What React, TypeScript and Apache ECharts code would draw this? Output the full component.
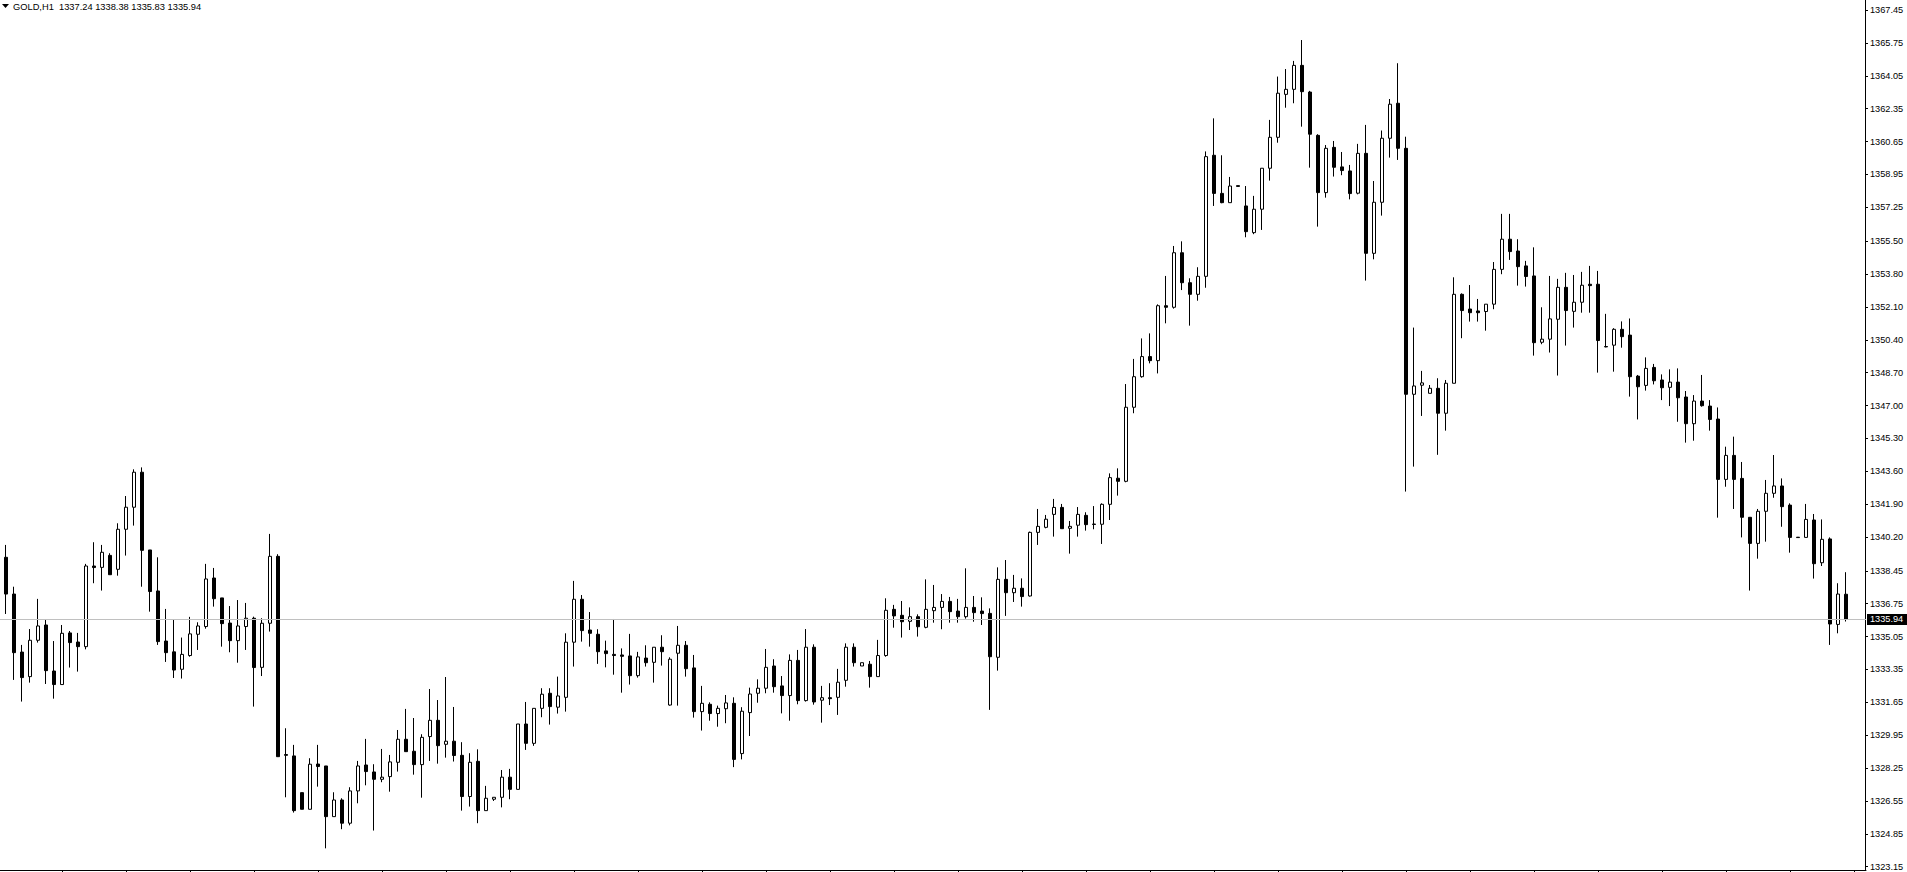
import React, { useEffect, useRef } from "react";
import * as echarts from "echarts";

const symbolName = "GOLD,H1";

const opens = [
  1338.00, 1339.15, 1337.25, 1334.25, 1332.98, 1334.86, 1335.65, 1333.27, 1332.57, 1335.24,
  1334.77, 1334.53, 1338.70, 1338.63, 1339.25, 1338.53, 1340.60, 1341.74, 1343.55, 1339.53,
  1337.41, 1334.82, 1334.26, 1333.36, 1334.07, 1335.17, 1335.57, 1338.08, 1337.05, 1335.75,
  1334.84, 1335.57, 1336.00, 1333.46, 1335.74, 1339.20, 1328.95, 1328.88, 1326.98, 1326.12,
  1328.46, 1328.36, 1325.74, 1326.60, 1325.40, 1327.07, 1328.41, 1328.05, 1327.67, 1327.81,
  1328.55, 1329.74, 1329.12, 1328.43, 1329.88, 1330.72, 1329.48, 1329.64, 1328.91, 1326.78,
  1328.60, 1326.05, 1326.64, 1326.74, 1327.78, 1327.15, 1330.53, 1329.53, 1331.34, 1332.12,
  1331.40, 1331.91, 1334.76, 1336.98, 1335.39, 1335.17, 1334.31, 1334.13, 1334.10, 1334.05,
  1333.03, 1333.94, 1333.72, 1334.50, 1331.51, 1334.19, 1334.60, 1333.43, 1331.17, 1331.55,
  1331.07, 1331.32, 1331.60, 1329.00, 1331.12, 1332.12, 1332.38, 1333.53, 1332.50, 1332.00,
  1333.82, 1331.74, 1334.50, 1331.76, 1331.89, 1331.91, 1332.79, 1334.50, 1333.53, 1333.62,
  1332.98, 1334.07, 1336.46, 1336.15, 1335.84, 1336.08, 1335.53, 1336.39, 1336.56, 1336.87,
  1336.37, 1336.08, 1336.56, 1336.37, 1336.25, 1333.98, 1338.01, 1337.32, 1337.55, 1337.15,
  1340.44, 1340.70, 1341.37, 1341.73, 1340.65, 1340.81, 1341.32, 1340.87, 1340.86, 1341.89,
  1343.24, 1343.08, 1346.91, 1348.49, 1349.53, 1349.32, 1352.16, 1352.08, 1354.90, 1353.35,
  1352.75, 1353.68, 1359.94, 1357.97, 1357.49, 1358.37, 1357.32, 1355.94, 1357.15, 1359.27,
  1360.87, 1363.09, 1363.35, 1364.59, 1363.21, 1360.97, 1358.01, 1360.35, 1359.34, 1359.13,
  1357.98, 1360.04, 1354.87, 1357.51, 1360.82, 1362.63, 1360.30, 1347.58, 1348.05, 1347.63,
  1347.89, 1346.60, 1348.15, 1352.75, 1351.99, 1351.89, 1351.86, 1352.24, 1354.04, 1355.60,
  1354.99, 1354.22, 1353.70, 1350.27, 1350.43, 1351.46, 1353.11, 1351.87, 1352.34, 1353.27,
  1353.27, 1350.05, 1350.12, 1350.94, 1350.64, 1348.52, 1348.04, 1348.97, 1348.32, 1347.94,
  1348.21, 1347.44, 1346.06, 1347.23, 1346.97, 1346.30, 1343.18, 1344.42, 1343.23, 1341.22,
  1339.87, 1341.53, 1342.46, 1342.84, 1341.85, 1340.19, 1340.18, 1341.08, 1338.87, 1340.10,
  1335.68, 1337.24,
];

const highs = [
  1340.05, 1339.79, 1337.63, 1334.62, 1335.44, 1337.00, 1335.91, 1334.82, 1335.65, 1335.34,
  1335.24, 1338.81, 1339.93, 1339.79, 1339.36, 1340.91, 1342.32, 1343.70, 1343.80, 1339.53,
  1339.15, 1336.48, 1335.91, 1335.00, 1336.07, 1335.79, 1338.81, 1338.60, 1337.05, 1336.63,
  1336.94, 1336.79, 1336.08, 1336.00, 1340.36, 1339.31, 1330.31, 1329.45, 1326.98, 1328.76,
  1329.45, 1328.36, 1327.00, 1326.69, 1327.26, 1328.62, 1329.76, 1328.45, 1329.24, 1328.93,
  1330.22, 1331.31, 1330.84, 1330.00, 1332.34, 1331.77, 1332.96, 1331.41, 1329.59, 1329.02,
  1329.22, 1327.33, 1326.74, 1328.15, 1328.21, 1330.53, 1331.67, 1331.34, 1332.38, 1332.38,
  1332.98, 1335.22, 1337.93, 1337.20, 1336.32, 1335.43, 1334.84, 1335.96, 1334.44, 1335.19,
  1334.26, 1334.60, 1334.50, 1335.12, 1333.98, 1335.60, 1334.82, 1334.10, 1332.50, 1331.65,
  1331.48, 1332.03, 1331.91, 1331.40, 1332.41, 1332.84, 1334.41, 1333.88, 1333.01, 1334.13,
  1334.36, 1335.44, 1334.65, 1332.50, 1332.64, 1333.38, 1334.70, 1334.70, 1333.70, 1333.79,
  1334.88, 1337.03, 1336.69, 1336.89, 1336.56, 1336.20, 1338.01, 1337.72, 1337.25, 1337.10,
  1337.00, 1338.58, 1337.15, 1337.08, 1336.51, 1338.63, 1339.01, 1338.24, 1338.06, 1340.48,
  1341.65, 1341.34, 1342.17, 1341.91, 1341.03, 1341.75, 1341.48, 1341.80, 1341.94, 1343.49,
  1343.75, 1348.11, 1349.41, 1350.47, 1350.73, 1352.23, 1353.70, 1355.25, 1355.49, 1353.58,
  1354.15, 1360.14, 1361.85, 1359.94, 1358.82, 1358.37, 1358.35, 1357.84, 1359.27, 1361.77,
  1364.01, 1364.40, 1364.82, 1365.90, 1363.27, 1361.03, 1360.47, 1360.68, 1360.11, 1359.44,
  1360.53, 1361.51, 1358.61, 1361.22, 1362.85, 1364.70, 1360.90, 1351.03, 1348.79, 1348.06,
  1348.41, 1348.32, 1353.63, 1352.80, 1353.23, 1352.51, 1352.24, 1354.42, 1356.91, 1356.91,
  1355.60, 1354.48, 1355.18, 1352.08, 1353.70, 1353.55, 1353.86, 1353.75, 1353.91, 1354.22,
  1353.96, 1351.74, 1351.00, 1351.35, 1351.50, 1348.58, 1349.49, 1349.15, 1348.61, 1348.87,
  1348.92, 1347.75, 1347.54, 1348.58, 1347.28, 1346.90, 1344.87, 1345.39, 1344.08, 1341.22,
  1341.65, 1343.15, 1344.44, 1343.23, 1341.94, 1340.19, 1341.91, 1341.39, 1341.11, 1340.18,
  1337.81, 1338.38,
];

const lows = [
  1337.90, 1336.22, 1332.81, 1331.69, 1332.67, 1334.74, 1332.60, 1331.84, 1332.57, 1333.45,
  1333.24, 1334.39, 1337.81, 1337.43, 1338.25, 1338.20, 1339.24, 1340.79, 1337.63, 1336.34,
  1334.62, 1333.74, 1332.91, 1332.88, 1334.01, 1334.36, 1335.46, 1336.60, 1334.53, 1334.24,
  1333.70, 1334.36, 1331.43, 1333.01, 1335.31, 1328.84, 1326.74, 1325.95, 1326.12, 1326.12,
  1327.29, 1324.10, 1325.74, 1325.09, 1325.29, 1326.43, 1327.36, 1325.02, 1327.52, 1327.03,
  1328.07, 1329.10, 1327.91, 1326.72, 1328.62, 1328.48, 1328.79, 1328.59, 1326.05, 1326.26,
  1325.40, 1326.05, 1326.55, 1326.22, 1326.64, 1327.15, 1329.19, 1329.40, 1330.88, 1330.50,
  1331.07, 1331.17, 1333.50, 1334.79, 1334.53, 1333.64, 1333.46, 1333.08, 1332.15, 1332.57,
  1332.93, 1333.50, 1332.67, 1333.55, 1331.48, 1331.48, 1332.98, 1330.86, 1330.19, 1330.70,
  1330.39, 1330.57, 1328.30, 1328.70, 1329.91, 1331.63, 1332.12, 1332.15, 1331.08, 1330.70,
  1331.55, 1331.69, 1331.53, 1330.60, 1331.51, 1331.00, 1332.46, 1333.50, 1333.53, 1332.41,
  1332.98, 1334.01, 1335.51, 1335.00, 1335.39, 1335.05, 1335.48, 1335.77, 1335.43, 1335.77,
  1335.77, 1335.98, 1335.82, 1335.65, 1331.26, 1333.29, 1336.12, 1336.84, 1336.60, 1337.12,
  1339.79, 1340.65, 1340.22, 1340.63, 1339.34, 1340.22, 1340.53, 1340.60, 1339.84, 1341.08,
  1342.34, 1343.03, 1346.60, 1348.44, 1349.18, 1348.66, 1351.25, 1352.01, 1352.97, 1351.13,
  1352.42, 1353.09, 1357.32, 1357.46, 1357.49, 1358.33, 1355.70, 1355.86, 1356.08, 1358.63,
  1360.59, 1362.40, 1362.63, 1361.42, 1359.30, 1356.25, 1357.75, 1358.84, 1358.91, 1357.66,
  1357.92, 1353.46, 1354.56, 1356.82, 1359.82, 1359.70, 1342.55, 1343.84, 1346.46, 1347.63,
  1344.45, 1345.70, 1348.15, 1350.48, 1351.34, 1351.34, 1350.87, 1351.98, 1353.79, 1354.53,
  1353.20, 1353.15, 1349.58, 1350.17, 1349.74, 1348.55, 1350.10, 1351.03, 1351.80, 1351.80,
  1348.70, 1350.01, 1348.75, 1349.99, 1347.46, 1346.28, 1347.77, 1348.09, 1347.28, 1346.97,
  1346.16, 1345.08, 1345.18, 1346.94, 1345.70, 1341.20, 1342.80, 1341.65, 1340.18, 1337.43,
  1339.08, 1339.96, 1342.23, 1340.73, 1339.39, 1340.17, 1340.18, 1338.05, 1338.70, 1334.62,
  1335.22, 1335.83,
];

const closes = [
  1339.15, 1337.25, 1334.22, 1332.93, 1334.86, 1335.60, 1333.29, 1332.57, 1335.22, 1334.74,
  1334.53, 1338.70, 1338.62, 1339.41, 1338.25, 1340.60, 1341.74, 1343.55, 1339.51, 1337.38,
  1334.79, 1334.22, 1333.32, 1334.13, 1335.19, 1335.60, 1338.03, 1337.01, 1335.72, 1334.84,
  1335.60, 1336.00, 1333.45, 1335.74, 1339.20, 1328.84, 1328.91, 1326.05, 1326.12, 1328.45,
  1328.33, 1325.74, 1326.60, 1325.40, 1327.07, 1328.36, 1328.07, 1327.67, 1327.78, 1328.57,
  1329.74, 1329.10, 1328.43, 1329.84, 1330.72, 1329.41, 1329.64, 1328.90, 1326.78, 1328.55,
  1326.05, 1326.69, 1326.74, 1327.78, 1327.15, 1330.53, 1329.53, 1331.34, 1332.07, 1331.43,
  1331.98, 1334.76, 1336.98, 1335.36, 1335.22, 1334.27, 1334.17, 1334.07, 1334.03, 1333.03,
  1334.00, 1333.70, 1334.50, 1334.27, 1333.88, 1334.60, 1333.39, 1331.17, 1331.60, 1331.07,
  1331.34, 1331.62, 1328.70, 1331.19, 1332.08, 1332.38, 1333.46, 1332.46, 1332.00, 1333.82,
  1331.74, 1334.50, 1331.67, 1331.89, 1331.84, 1332.69, 1334.50, 1333.70, 1333.70, 1332.98,
  1334.07, 1336.41, 1336.12, 1335.82, 1336.08, 1335.56, 1336.46, 1336.56, 1336.87, 1336.34,
  1336.08, 1336.56, 1336.29, 1336.24, 1334.01, 1338.01, 1337.32, 1337.55, 1337.12, 1340.44,
  1340.75, 1341.12, 1341.73, 1340.63, 1340.75, 1341.37, 1340.84, 1340.85, 1341.89, 1343.27,
  1343.08, 1346.91, 1348.49, 1349.53, 1349.32, 1352.16, 1352.08, 1354.90, 1353.35, 1352.75,
  1353.68, 1359.87, 1357.97, 1357.49, 1358.35, 1358.33, 1355.99, 1357.15, 1359.27, 1360.87,
  1363.15, 1363.35, 1364.59, 1363.23, 1361.03, 1358.01, 1360.30, 1359.32, 1359.15, 1357.96,
  1360.04, 1354.87, 1357.51, 1360.82, 1362.58, 1360.30, 1347.58, 1348.01, 1348.17, 1347.89,
  1346.60, 1348.15, 1352.75, 1351.91, 1351.80, 1351.80, 1352.24, 1354.04, 1355.60, 1354.96,
  1354.18, 1353.67, 1350.25, 1350.43, 1351.48, 1353.11, 1351.91, 1352.34, 1353.22, 1353.20,
  1350.36, 1350.03, 1350.94, 1350.56, 1348.49, 1347.97, 1348.92, 1348.28, 1347.92, 1348.21,
  1347.40, 1346.06, 1347.23, 1346.99, 1346.28, 1343.18, 1344.42, 1343.18, 1341.22, 1339.87,
  1341.53, 1342.46, 1342.84, 1341.77, 1340.18, 1340.17, 1341.11, 1338.82, 1340.08, 1335.70,
  1337.25, 1335.94,
];

const priceTicks = [
  "1367.45", "1365.75", "1364.05", "1362.35", "1360.65", "1358.95", "1357.25", "1355.50",
  "1353.80", "1352.10", "1350.40", "1348.70", "1347.00", "1345.30", "1343.60", "1341.90",
  "1340.20", "1338.45", "1336.75", "1335.05", "1333.35", "1331.65", "1329.95", "1328.25",
  "1326.55", "1324.85", "1323.15",
];

const lastPrice = closes[closes.length - 1];
const categories = [...opens.map((_, i) => String(i)), "", ""];

const FONT = "'Liberation Sans', Arial, sans-serif";
const SHIFT = 6; // chart div starts 6px left of the page so the first candle is cut off like the original

export default function App() {
  const ref = useRef<HTMLDivElement>(null);

  useEffect(() => {
    if (!ref.current) return;
    const chart = echarts.init(ref.current, undefined, { renderer: "svg" });
    const n = opens.length;
    const candles = opens.map((o, i) => [o, closes[i], lows[i], highs[i]]);
    const header = `${symbolName}  ${opens[n - 1].toFixed(2)} ${highs[n - 1].toFixed(2)} ${lows[n - 1].toFixed(2)} ${closes[n - 1].toFixed(2)}`;
    const tickValues = priceTicks.map(Number);

    chart.setOption({
      animation: false,
      backgroundColor: "#ffffff",
      title: {
        text: header,
        left: 13 + SHIFT,
        top: 2,
        padding: 0,
        textStyle: { fontFamily: FONT, fontSize: 9.3, fontWeight: "normal", color: "#000" },
      },
      graphic: [
        {
          type: "polygon",
          shape: { points: [[2 + SHIFT, 4], [9 + SHIFT, 4], [5.5 + SHIFT, 8]] },
          style: { fill: "#000" },
        },
      ],
      grid: { left: 0, top: 0, width: 1872, height: 870, containLabel: false },
      xAxis: {
        type: "category",
        data: categories,
        boundaryGap: true,
        axisLine: { show: true, lineStyle: { color: "#000", width: 1 } },
        axisTick: {
          show: true,
          alignWithLabel: true,
          length: 2,
          interval: (idx: number) => idx > 0 && idx % 8 === 0,
          lineStyle: { color: "#000" },
        },
        axisLabel: { show: false },
        splitLine: { show: false },
      },
      yAxis: {
        type: "value",
        position: "right",
        offset: -1,
        min: 1322.98,
        max: 1367.97,
        axisLine: { show: true, lineStyle: { color: "#000", width: 1 } },
        axisTick: {
          show: true,
          length: 3,
          customValues: tickValues,
          lineStyle: { color: "#000" },
        },
        axisLabel: {
          show: true,
          customValues: tickValues,
          margin: 5,
          color: "#000",
          fontFamily: FONT,
          fontSize: 9.2,
          formatter: (v: number) => v.toFixed(2),
        },
        splitLine: { show: false },
      },
      series: [
        {
          type: "candlestick",
          data: candles,
          barWidth: 4,
          clip: false,
          itemStyle: {
            color: "#ffffff",
            color0: "#000000",
            borderColor: "#000000",
            borderColor0: "#000000",
            borderColorDoji: "#000000",
            borderWidth: 1,
          },
          markLine: {
            silent: true,
            symbol: ["none", "none"],
            animation: false,
            lineStyle: { color: "#c0c0c0", width: 1, type: "solid" },
            label: {
              show: true,
              position: "end",
              distance: 1,
              formatter: () => lastPrice.toFixed(2),
              backgroundColor: "#000",
              color: "#fff",
              fontFamily: FONT,
              fontSize: 9.2,
              padding: [1, 6, 1, 3],
            },
            emphasis: { disabled: true },
            data: [{ yAxis: lastPrice }],
          },
        },
      ],
    });

    return () => chart.dispose();
  }, []);

  return (
    <div
      ref={ref}
      style={{ position: "absolute", left: -SHIFT, top: 0, width: 1907 + SHIFT, height: 872 }}
    />
  );
}
